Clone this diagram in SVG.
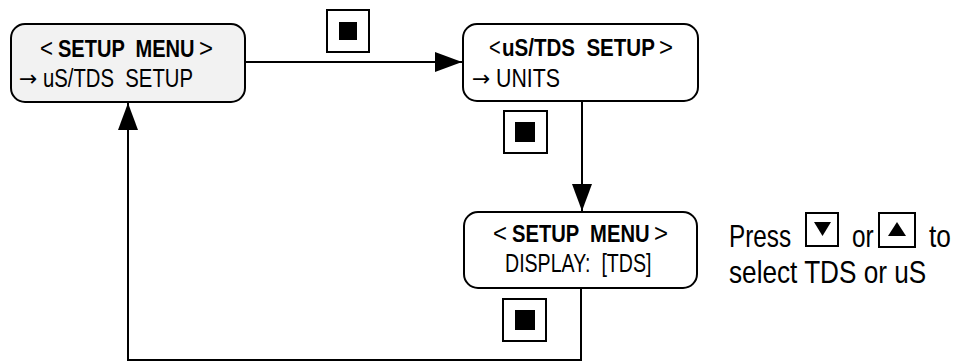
<svg xmlns="http://www.w3.org/2000/svg" width="960" height="362" viewBox="0 0 960 362">
<defs>
<style>
.node{stroke:#000;stroke-width:2;}
.t{font-family:"Liberation Sans","Arial",sans-serif;font-size:25px;fill:#000;white-space:pre;}
.b{font-weight:bold;font-size:23px;}
.ar{font-family:"DejaVu Sans",sans-serif;font-size:22px;}
.big{font-size:32px;}
.conn{fill:none;stroke:#000;stroke-width:2;}
.btn{fill:#fff;stroke:#000;stroke-width:2;}
</style>
<marker id="ah" markerWidth="28" markerHeight="20" refX="27" refY="10" orient="auto" markerUnits="userSpaceOnUse">
<path d="M0,0 L27,10 L0,20 Z" fill="#000"/>
</marker>
</defs>
<rect width="960" height="362" fill="#fff"/>
<g id="connectors">
<line class="conn" x1="245" y1="62" x2="462" y2="62" marker-end="url(#ah)"/>
<line class="conn" x1="582" y1="101" x2="582" y2="211" marker-end="url(#ah)"/>
<polyline class="conn" points="581,288 581,360 128,360 128,103" marker-end="url(#ah)"/>
</g>
<g id="node-setup-menu">
<rect class="node" x="11" y="24" width="234" height="78" rx="14" fill="#f2f2f2"/>
<text class="t" transform="translate(40,57) scale(0.89,1)">&lt;</text>
<text class="t b" transform="translate(58,57) scale(0.8715,1)" xml:space="preserve">SETUP  MENU</text>
<text class="t" transform="translate(199,57) scale(0.96,1)">&gt;</text>
<text class="t ar" x="19" y="86">→</text>
<text class="t" transform="translate(43,87) scale(0.812,1)" xml:space="preserve">uS/TDS  SETUP</text>
</g>
<g id="node-us-tds-setup">
<rect class="node" x="463" y="24" width="235" height="77" rx="14" fill="#fff"/>
<text class="t" transform="translate(489,56) scale(0.8,1)">&lt;</text>
<text class="t b" transform="translate(502,56) scale(0.893,1)" xml:space="preserve">uS/TDS  SETUP</text>
<text class="t" transform="translate(659,56) scale(0.96,1)">&gt;</text>
<text class="t ar" x="472" y="86">→</text>
<text class="t" transform="translate(496,87) scale(0.853,1)">UNITS</text>
</g>
<g id="node-display">
<rect class="node" x="464" y="212" width="233" height="76" rx="14" fill="#fff"/>
<text class="t" transform="translate(493,242) scale(0.96,1)">&lt;</text>
<text class="t b" transform="translate(512,242) scale(0.878,1)" xml:space="preserve">SETUP  MENU</text>
<text class="t" transform="translate(654,242) scale(0.96,1)">&gt;</text>
<text class="t" transform="translate(505,272) scale(0.783,1)" xml:space="preserve">DISPLAY:  [TDS]</text>
</g>
<g id="button-1">
<rect class="btn" x="327" y="10" width="42" height="42"/>
<rect x="339" y="22" width="18" height="18" fill="#000"/>
</g>
<g id="button-2">
<rect class="btn" x="504" y="111" width="43" height="42"/>
<rect x="515" y="122" width="20" height="20" fill="#000"/>
</g>
<g id="button-3">
<rect class="btn" x="503" y="299" width="43" height="42"/>
<rect x="515" y="310" width="20" height="20" fill="#000"/>
</g>
<g id="note">
<text class="t big" transform="translate(729,247) scale(0.76,1)">Press</text>
<rect class="btn" x="806" y="213" width="32" height="33"/>
<polygon points="814,222 831,222 822.5,236" fill="#000"/>
<text class="t big" transform="translate(852,247) scale(0.76,1)">or</text>
<rect class="btn" x="879" y="213" width="36" height="34"/>
<polygon points="888,236 906,236 897,222" fill="#000"/>
<text class="t big" transform="translate(929,247) scale(0.82,1)">to</text>
<text class="t big" transform="translate(729,283) scale(0.818,1)">select TDS or uS</text>
</g>
</svg>
